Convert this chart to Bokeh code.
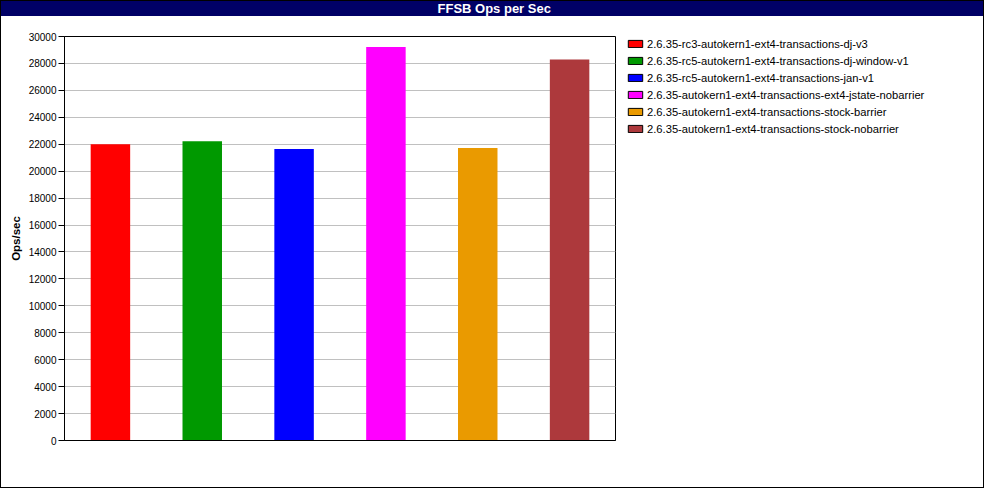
from bokeh.plotting import figure
from bokeh.models import Legend, LegendItem, Range1d, FixedTicker
from bokeh.layouts import row
from bokeh.embed import file_html
from bokeh.resources import INLINE

title_text = "FFSB Ops per Sec"
y_label = "Ops/sec"
names = [
    "2.6.35-rc3-autokern1-ext4-transactions-dj-v3",
    "2.6.35-rc5-autokern1-ext4-transactions-dj-window-v1",
    "2.6.35-rc5-autokern1-ext4-transactions-jan-v1",
    "2.6.35-autokern1-ext4-transactions-ext4-jstate-nobarrier",
    "2.6.35-autokern1-ext4-transactions-stock-barrier",
    "2.6.35-autokern1-ext4-transactions-stock-nobarrier",
]
ops = [22000, 22214, 21640, 29214, 21714, 28286]
colors = ["#ff0000", "#009900", "#0000ff", "#ff00ff", "#ea9a00", "#ad393c"]
y_ticks = list(range(0, 30001, 2000))

FONT = "Liberation Sans"
xpos = [i + 0.5 for i in range(len(names))]

# ---------------- main chart ----------------
p = figure(width=625, height=488,
           x_range=Range1d(0, len(names)), y_range=Range1d(0, 30000),
           output_backend="svg", toolbar_location=None,
           min_border_left=64, min_border_right=10,
           min_border_top=34, min_border_bottom=48)
p.outline_line_color = "black"
p.outline_line_width = 1
p.background_fill_color = "white"
p.border_fill_alpha = 0

# title text (navy bar is the page background strip)
p.title.text = title_text
p.title.align = "left"
p.title.offset = 373
p.title.vertical_align = "top"
p.title.standoff = 0
p.title.text_font = FONT
p.title.text_font_size = "13px"
p.title.text_font_style = "bold"
p.title.text_color = "white"
p.title.background_fill_alpha = 0
p.title.padding = dict(left=0, right=0, top=0, bottom=19)

p.vbar(x=xpos, top=ops, bottom=0, width=0.43, fill_color=colors, line_color=None)

ya = p.yaxis[0]
ya.ticker = FixedTicker(ticks=y_ticks)
ya.minor_tick_line_color = None
ya.major_tick_out = 6
ya.major_tick_in = 0
ya.major_label_standoff = 2
ya.major_label_text_font = FONT
ya.major_label_text_font_size = "10px"
ya.major_label_text_color = "black"
ya.axis_line_color = "black"
ya.major_tick_line_color = "black"
ya.axis_label = y_label
ya.axis_label_text_font = FONT
ya.axis_label_text_font_size = "11.5px"
ya.axis_label_text_font_style = "bold"
ya.axis_label_text_color = "black"
ya.axis_label_standoff = 4

xa = p.xaxis[0]
xa.ticker = FixedTicker(ticks=[])
xa.major_tick_line_color = None
xa.minor_tick_line_color = None
xa.axis_line_color = "black"

p.xgrid.grid_line_color = None
p.ygrid.ticker = FixedTicker(ticks=y_ticks)
p.ygrid.grid_line_color = "#c0c0c0"

# ---------------- legend panel ----------------
pl = figure(width=359, height=488, x_range=Range1d(-101, -100), y_range=Range1d(100, 101),
            output_backend="svg", toolbar_location=None,
            min_border=0, min_border_left=0, min_border_right=0,
            min_border_top=0, min_border_bottom=0)
pl.xaxis.visible = False
pl.yaxis.visible = False
pl.xgrid.grid_line_color = None
pl.ygrid.grid_line_color = None
pl.outline_line_color = None
pl.background_fill_alpha = 0
pl.border_fill_alpha = 0

items = []
for i, (n, c) in enumerate(zip(names, colors)):
    # helper swatch renderer, lying outside the visible range of this panel
    r = pl.vbar(x=[xpos[i]], top=[0], bottom=[0], width=0.43,
                fill_color=c, line_color="black", line_width=1)
    items.append(LegendItem(label=n, renderers=[r]))
legend = Legend(items=items, location=(1, 305), orientation="vertical",
                glyph_width=18, glyph_height=9, label_height=13, spacing=4,
                padding=0, margin=0, label_standoff=3,
                label_text_font=FONT, label_text_font_size="11.2px",
                label_text_color="black",
                border_line_color=None, background_fill_alpha=0)
pl.add_layout(legend, "center")

layout = row(p, pl, styles={
    "background": "linear-gradient(to bottom, #000066 0px, #000066 16px, #ffffff 16px, #ffffff 100%)",
    "outline": "1px solid black", "outline-offset": "-1px"})

open("out.html", "w").write(file_html(layout, INLINE))
